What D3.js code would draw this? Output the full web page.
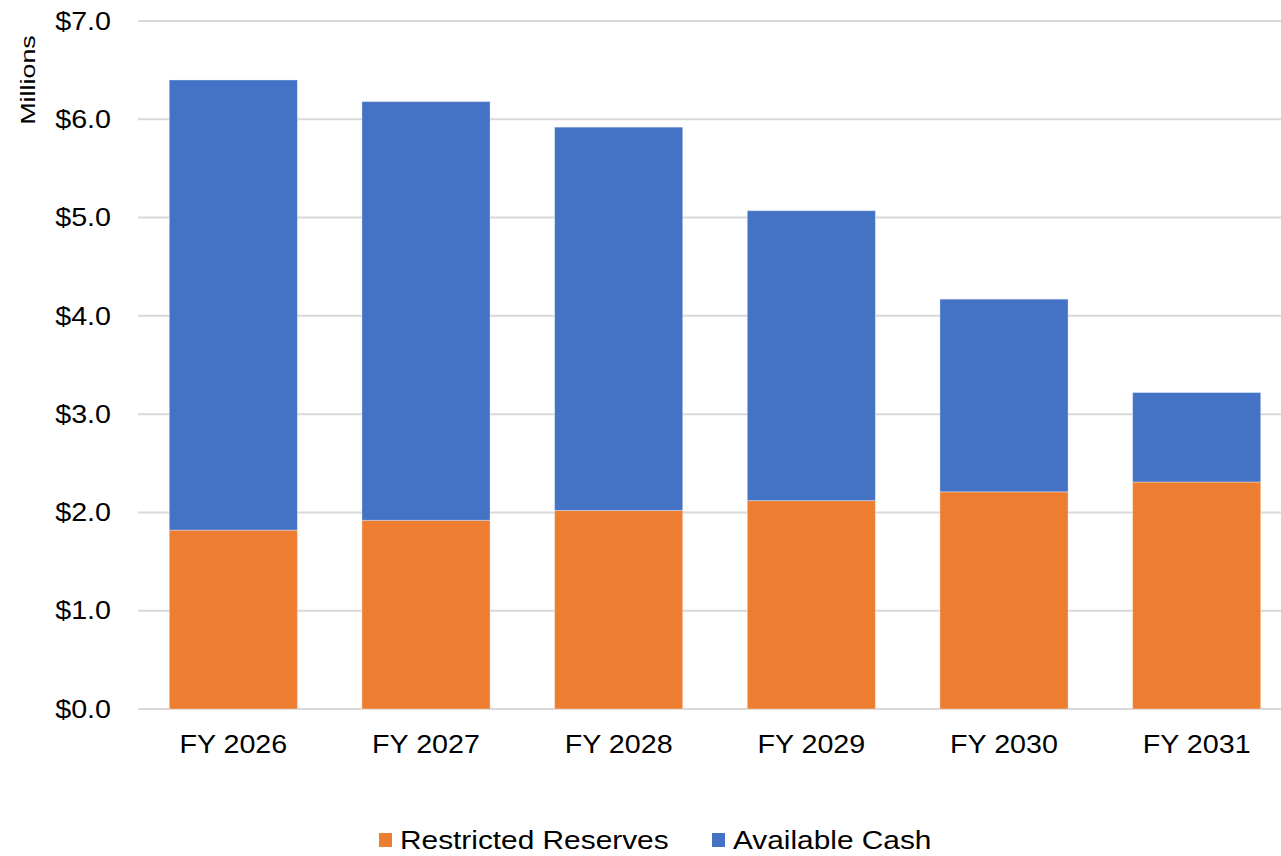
<!DOCTYPE html>
<html>
<head>
<meta charset="utf-8">
<script src="https://cdn.jsdelivr.net/npm/d3@7"></script>
<style>
  body { margin: 0; background: #fff; }
  text { font-family: "Liberation Sans", Arial, sans-serif; fill: #000; }
</style>
</head>
<body>
<div id="chart"></div>
<script>
// data (millions)
const years = ["FY 2026", "FY 2027", "FY 2028", "FY 2029", "FY 2030", "FY 2031"];
const restricted = [1.82, 1.92, 2.02, 2.12, 2.21, 2.31];
const available = [4.58, 4.26, 3.90, 2.95, 1.96, 0.91];
const seriesNames = ["Restricted Reserves", "Available Cash"];
const seriesColors = ["#ED7D31", "#4472C4"];
const yTicks = [0, 1, 2, 3, 4, 5, 6, 7];

const width = 1281;
const height = 856;
const margin = {t: 21, b: 147, l: 137, r: -12};
const fontSize = "25.5px";
const stretch = 1.125; // text in the original renders wider than Liberation Sans

const svg = d3.select("#chart")
    .append("svg")
    .attr("width", width)
    .attr("height", height);

const rows = years.map((y, i) => ({year: y, restricted: restricted[i], available: available[i]}));
const stack = d3.stack().keys(["restricted", "available"])(rows);

const xScale = d3.scaleBand()
    .domain(years)
    .range([margin.l, width - margin.r])
    .paddingInner(0.335)
    .paddingOuter(0.1675);

const yScale = d3.scaleLinear()
    .domain([0, 7])
    .range([height - margin.b, margin.t]);

//gridlines
svg.append("g")
    .selectAll("line")
    .data(yTicks)
    .join("line")
    .attr("x1", margin.l + 1)
    .attr("x2", width)
    .attr("y1", d => yScale(d))
    .attr("y2", d => yScale(d))
    .attr("stroke", "#d9d9d9")
    .attr("stroke-width", 2);

//y labels
const y_axis = d3.axisLeft(yScale)
    .tickValues(yTicks)
    .tickSize(0)
    .tickFormat(d => "$" + d3.format(".1f")(d));
svg.append("g")
    .attr("transform", `translate(${margin.l}, 0)`)
    .call(y_axis)
    .call(g => g.select(".domain").remove())
    .selectAll("text")
    .attr("x", -26 / stretch)
    .attr("transform", `scale(${stretch},1)`)
    .attr("font-size", fontSize)
    .attr("font-family", "Liberation Sans, Arial, sans-serif")
    .attr("fill", "#000");

svg.append("text")
    .attr("transform", "rotate(-90) scale(1.28,1)")
    .attr("x", -80 / 1.28)
    .attr("y", 35)
    .attr("text-anchor", "middle")
    .attr("font-size", "21px")
    .text("Millions");

//bars
svg.append("g")
    .selectAll("g")
    .data(stack)
    .join("g")
    .attr("fill", (d, i) => seriesColors[i])
    .selectAll("rect")
    .data(d => d)
    .join("rect")
    .attr("x", d => xScale(d.data.year))
    .attr("y", d => yScale(d[1]))
    .attr("width", xScale.bandwidth())
    .attr("height", d => yScale(d[0]) - yScale(d[1]))
    .attr("stroke", "#ffffff")
    .attr("stroke-opacity", 0.35)
    .attr("stroke-width", 1);

//x labels
const x_axis = d3.axisBottom(xScale).tickSize(0).tickPadding(26);
svg.append("g")
    .attr("transform", `translate(0, ${height - margin.b})`)
    .call(x_axis)
    .call(g => g.select(".domain").remove())
    .selectAll("text")
    .attr("transform", `scale(${stretch},1)`)
    .attr("font-size", fontSize)
    .attr("font-family", "Liberation Sans, Arial, sans-serif")
    .attr("fill", "#000");

//legend
const legendX = [379, 712];
const legend = svg.append("g");
seriesNames.forEach((name, i) => {
    legend.append("rect")
        .attr("x", legendX[i])
        .attr("y", 833)
        .attr("width", 13)
        .attr("height", 14)
        .attr("fill", seriesColors[i]);
    legend.append("text")
        .attr("transform", `translate(${legendX[i] + 21}, 849) scale(1.17,1)`)
        .attr("font-size", fontSize)
        .text(name);
});
</script>
</body>
</html>
